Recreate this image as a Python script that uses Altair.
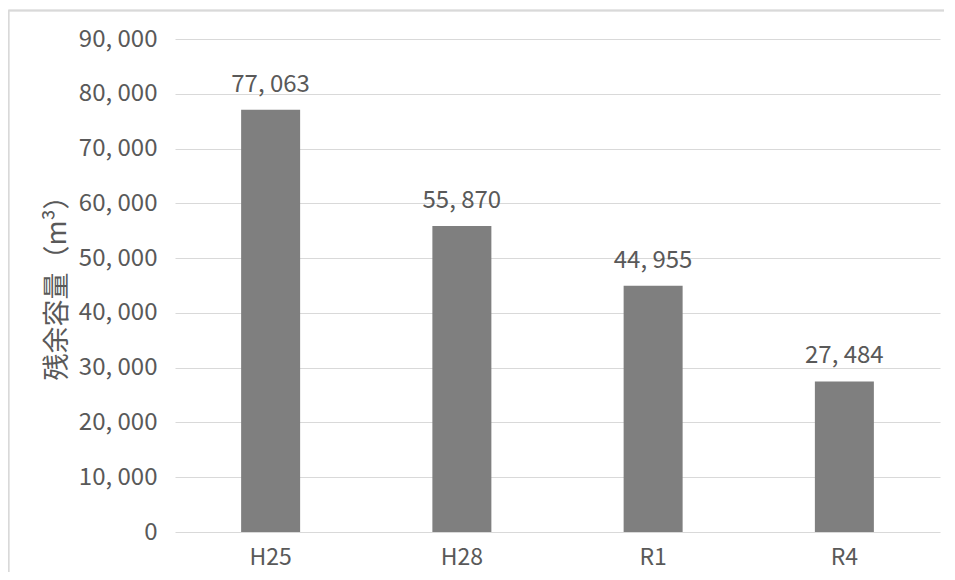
import altair as alt
import pandas as pd

categories = ["H25", "H28", "R1", "R4"]
values = [77063, 55870, 44955, 27484]
y_ticks = [0, 10000, 20000, 30000, 40000, 50000, 60000, 70000, 80000, 90000]
y_title = "残余容量（m³）"

FONT = "Noto Sans CJK JP"
TEXT = "#595959"

df = pd.DataFrame({"year": categories, "value": values})

base = alt.Chart(df).encode(
    x=alt.X(
        "year:N",
        sort=categories,
        scale=alt.Scale(paddingInner=0, paddingOuter=0),
        axis=alt.Axis(
            title=None, labelAngle=0, domain=False, ticks=False, grid=False,
            labelPadding=14, labelFontSize=23, labelColor=TEXT, labelFont=FONT,
        ),
    ),
    y=alt.Y(
        "value:Q",
        scale=alt.Scale(domain=[0, 90000], nice=False),
        axis=alt.Axis(
            values=y_ticks,
            labelExpr="replace(format(datum.value, ',d'), ',', ', ')",
            domain=False, ticks=False,
            grid=True, gridColor="#d9d9d9", gridWidth=1.2,
            labelPadding=18, labelFontSize=24, labelColor=TEXT, labelFont=FONT,
            title=y_title, titleFont=FONT, titleFontSize=27, titleFontWeight="normal",
            titleColor=TEXT, titleX=-118, titleY=242, titleAngle=-90,
            titleAlign="center", titleBaseline="middle",
        ),
    ),
)

bars = base.mark_bar(width=59, color="#7f7f7f")
labels = (
    base.transform_calculate(label="replace(format(datum.value, ',d'), ',', ', ')")
    .mark_text(dy=-18, baseline="alphabetic", fontSize=24, color=TEXT, font=FONT)
    .encode(text="label:N")
)

# light outer frame of the chart (decoration)
frame_top = alt.Chart(df).mark_rule(color="#d9d9d9", strokeWidth=1.5).encode(
    x=alt.value(-166.5), x2=alt.value(790), y=alt.value(-28.5)
)
frame_left = alt.Chart(df).mark_rule(color="#d9d9d9", strokeWidth=1.5).encode(
    x=alt.value(-166.5), y=alt.value(-28.5), y2=alt.value(560)
)

chart = (
    alt.layer(frame_top, frame_left, bars, labels)
    .properties(
        width=765,
        height=493,
        autosize=alt.AutoSizeParams(type="none"),
        padding={"left": 167, "top": 31, "right": 4, "bottom": 40},
        background="white",
    )
    .configure_view(stroke=None)
)

chart.save("out.html", embed_options={"renderer": "svg", "actions": False})
